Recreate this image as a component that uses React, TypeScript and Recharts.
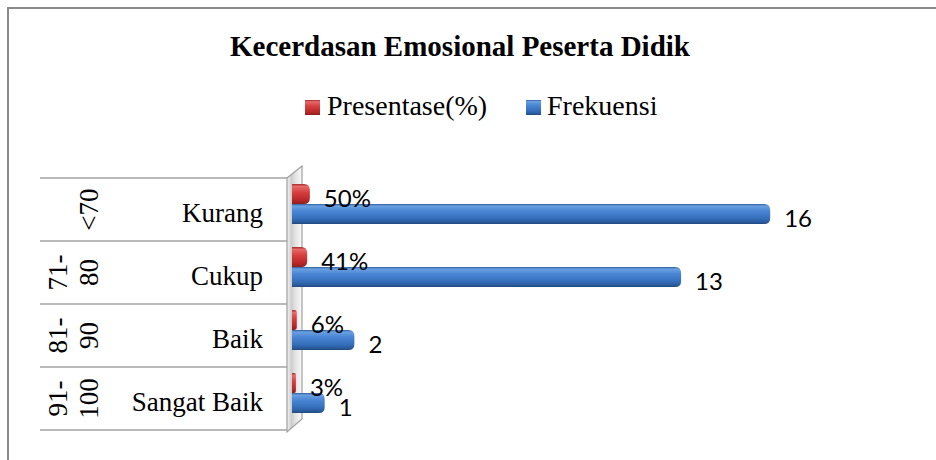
import React from "react";
import { BarChart, Bar, XAxis, YAxis, LabelList } from "recharts";

const categories = ["Kurang", "Cukup", "Baik", "Sangat Baik"];
const ranges = ["<70", "71-80", "81-90", "91-100"];
const presentase = [0.5, 0.41, 0.06, 0.03];
const frekuensi = [16, 13, 2, 1];

const data = categories.map((name, i) => ({
  name,
  range: ranges[i],
  presentase: presentase[i],
  frekuensi: frekuensi[i],
}));

const SERIF = "'Liberation Serif', 'Times New Roman', serif";
const SANS = "Lato, 'Open Sans', sans-serif";
const HALF_BAND = 31.5;

// bar with a rounded right end, nudged up a bit like the 3D original
const CylBar = (props: any) => {
  const { x, y, width, height, fill } = props;
  const x0 = Number(x) - 3;
  const w = Number(width) + 3;
  const yy = Number(y) - 6;
  const h = Number(height);
  const r = Math.min(6, w / 2, h / 2);
  const d = `M${x0},${yy} H${x0 + w - r} Q${x0 + w},${yy} ${x0 + w},${yy + r} V${yy + h - r} Q${x0 + w},${yy + h} ${x0 + w - r},${yy + h} H${x0} Z`;
  return <path d={d} fill={fill} />;
};

const CatTick = (props: any) => {
  const { y, payload } = props;
  const idx = categories.indexOf(payload.value);
  const cy = Number(y);
  const range = ranges[idx] || "";
  const cut = range.indexOf("-");
  const parts = cut >= 0 ? [range.slice(0, cut + 1), range.slice(cut + 1)] : [range];
  const lineX = parts.length === 2 ? [67, 98] : [98];
  return (
    <g>
      <line x1={40} x2={287} y1={cy - HALF_BAND} y2={cy - HALF_BAND} stroke="#a3a3a3" strokeWidth={1.5} />
      {idx === categories.length - 1 && (
        <line x1={40} x2={287} y1={cy + HALF_BAND} y2={cy + HALF_BAND} stroke="#a3a3a3" strokeWidth={1.5} />
      )}
      <text x={263} y={cy + 12} textAnchor="end" fontFamily={SERIF} fontSize={27} fill="#000">
        {payload.value}
      </text>
      {parts.map((p, i) => (
        <text
          key={i}
          x={lineX[i]}
          y={cy}
          transform={`rotate(-90 ${lineX[i]} ${cy})`}
          textAnchor="middle"
          fontFamily={SERIF}
          fontSize={27}
          fill="#000"
        >
          {p}
        </text>
      ))}
    </g>
  );
};

const makeLabel = (fmt: (v: number) => string) => (props: any) => {
  const { x, y, width, height, value } = props;
  return (
    <text
      x={Number(x) + Number(width) + 14}
      y={Number(y) + Number(height) / 2 - 3}
      dominantBaseline="central"
      fontFamily={SANS}
      fontSize={24}
      fill="#000"
    >
      {fmt(Number(value))}
    </text>
  );
};

const Backdrop = () => (
  <svg width={936} height={460} style={{ position: "absolute", left: 0, top: 0 }}>
    <defs>
      <linearGradient id="blueGrad" x1="0" y1="0" x2="0" y2="1">
        <stop offset="0%" stopColor="#2e5f9e" />
        <stop offset="10%" stopColor="#6aa0e2" />
        <stop offset="35%" stopColor="#4a86d4" />
        <stop offset="70%" stopColor="#3670bd" />
        <stop offset="90%" stopColor="#2a5b9c" />
        <stop offset="100%" stopColor="#1f4a80" />
      </linearGradient>
      <linearGradient id="redGrad" x1="0" y1="0" x2="0" y2="1">
        <stop offset="0%" stopColor="#a52a2a" />
        <stop offset="12%" stopColor="#e66a6a" />
        <stop offset="40%" stopColor="#d84040" />
        <stop offset="80%" stopColor="#b82828" />
        <stop offset="100%" stopColor="#8e1e1e" />
      </linearGradient>
      <linearGradient id="wallGrad" x1="0" y1="0" x2="1" y2="0">
        <stop offset="0%" stopColor="#f4f4f4" />
        <stop offset="30%" stopColor="#cdcdcd" />
        <stop offset="55%" stopColor="#e2e2e2" />
        <stop offset="100%" stopColor="#fafafa" />
      </linearGradient>
    </defs>
    <line x1={7} x2={936} y1={8} y2={8} stroke="#8a8a8a" strokeWidth={2} />
    <line x1={8} x2={8} y1={7} y2={460} stroke="#8a8a8a" strokeWidth={2} />
    <text x={460} y={56} textAnchor="middle" fontFamily={SERIF} fontWeight="bold" fontSize={29} fill="#000">
      Kecerdasan Emosional Peserta Didik
    </text>
    <rect x={305} y={100} width={15} height={15} fill="url(#redGrad)" />
    <text x={327} y={115} fontFamily={SERIF} fontSize={28} fill="#000">
      Presentase(%)
    </text>
    <rect x={526} y={100} width={15} height={15} fill="url(#blueGrad)" />
    <text x={547} y={115} fontFamily={SERIF} fontSize={28} fill="#000">
      Frekuensi
    </text>
    <polygon points="287,178 302,166 302,419 287,432" fill="url(#wallGrad)" stroke="#a0a0a0" strokeWidth={1.2} />
  </svg>
);

export default function App() {
  return (
    <div style={{ position: "absolute", left: 0, top: 0, width: 936, height: 460, background: "#fff" }}>
      <Backdrop />
      <div style={{ position: "absolute", left: 0, top: 0 }}>
        <BarChart
          width={936}
          height={460}
          data={data}
          layout="vertical"
          margin={{ top: 178, right: 47, bottom: 30, left: 0 }}
          barGap={0}
          barSize={20}
        >
          <XAxis type="number" domain={[0, 20]} hide />
          <YAxis
            type="category"
            dataKey="name"
            width={295}
            axisLine={false}
            tickLine={false}
            interval={0}
            tick={(p: any) => <CatTick {...p} />}
          />
          <Bar dataKey="presentase" name="Presentase(%)" fill="url(#redGrad)" shape={(p: any) => <CylBar {...p} />} isAnimationActive={false}>
            <LabelList dataKey="presentase" content={makeLabel((v) => `${Math.round(v * 100)}%`)} />
          </Bar>
          <Bar dataKey="frekuensi" name="Frekuensi" fill="url(#blueGrad)" shape={(p: any) => <CylBar {...p} />} isAnimationActive={false}>
            <LabelList dataKey="frekuensi" content={makeLabel((v) => `${v}`)} />
          </Bar>
        </BarChart>
      </div>
    </div>
  );
}
